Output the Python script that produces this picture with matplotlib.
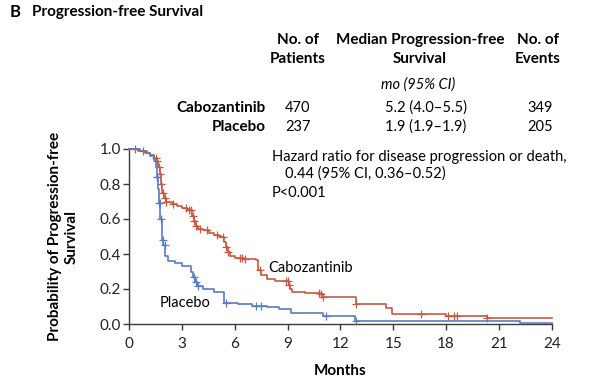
import numpy as np
import matplotlib
matplotlib.use('Agg')
import matplotlib.pyplot as plt

# ---- data ----
months_ticks = [0, 3, 6, 9, 12, 15, 18, 21, 24]
prob_ticks = [0.0, 0.2, 0.4, 0.6, 0.8, 1.0]

cabo_t = [0, 0.5, 0.9, 1.2, 1.4, 1.55, 1.65, 1.72, 1.78, 1.84, 1.95, 2.1, 2.4, 2.7, 3.0, 3.3,
          3.55, 3.68, 3.78, 3.9, 4.2, 4.5, 4.8, 5.1, 5.4, 5.5, 5.6, 5.72, 6.0, 6.5, 7.2, 7.33,
          7.5, 7.8, 8.3, 9.05, 9.15, 9.25, 10.0, 10.85, 11.0, 12.9, 14.6, 14.9, 18.0, 20.3, 24]
cabo_s = [1.0, 0.99, 0.98, 0.965, 0.95, 0.93, 0.90, 0.86, 0.80, 0.75, 0.72, 0.70, 0.685, 0.675,
          0.665, 0.65, 0.62, 0.59, 0.56, 0.545, 0.535, 0.52, 0.51, 0.495, 0.47, 0.44, 0.41, 0.39,
          0.38, 0.37, 0.365, 0.31, 0.28, 0.26, 0.245, 0.225, 0.20, 0.185, 0.18, 0.17, 0.156,
          0.114, 0.09, 0.06, 0.046, 0.034, 0.034]
cabo_cens = [0.3, 0.8, 1.5, 1.6, 1.7, 1.75, 1.8, 1.9, 2.0, 2.1, 2.5, 3.2, 3.4, 3.5, 3.6, 3.7, 3.8,
             4.0, 4.4, 5.0, 5.3, 5.5, 5.6, 6.3, 6.4, 6.6, 7.4, 8.9, 9.0, 9.1, 10.8, 10.9, 11.0,
             12.9, 16.6, 18.1, 18.45, 18.6, 20.3]

plac_t = [0, 0.6, 1.0, 1.2, 1.4, 1.5, 1.55, 1.62, 1.7, 1.76, 1.84, 1.93, 2.03, 2.2, 2.6, 3.0,
          3.5, 3.6, 3.75, 3.85, 4.2, 4.8, 5.4, 6.2, 7.0, 7.8, 8.5, 9.2, 11.0, 12.85, 22.2, 24]
plac_s = [1.0, 0.99, 0.975, 0.96, 0.94, 0.90, 0.84, 0.77, 0.69, 0.60, 0.48, 0.45, 0.39, 0.36,
          0.35, 0.33, 0.30, 0.27, 0.24, 0.215, 0.198, 0.185, 0.122, 0.112, 0.103, 0.095, 0.085,
          0.062, 0.045, 0.018, 0.008, 0.008]
plac_cens = [1.55, 1.6, 1.7, 1.75, 1.8, 1.9, 2.0, 3.7, 3.8, 3.9, 5.5, 7.2, 7.5, 11.2, 12.9]

RED = '#c65a45'
BLUE = '#5b7cc0'
GREY = '#3a3a3a'

plt.rcParams['font.family'] = ['Lato', 'DejaVu Sans']

W, H = 604.0, 380.0
fig = plt.figure(figsize=(W / 100, H / 100), dpi=100)
ax = fig.add_axes([129.3 / W, 1 - 324 / H, 422.4 / W, 175 / H])


def px(x, y):
    return x / W, 1 - y / H


def surv_at(t, steps, surv):
    i = np.searchsorted(steps, t, side='right') - 1
    return np.asarray(surv)[i]


for t, s, cens, col in [(cabo_t, cabo_s, cabo_cens, RED), (plac_t, plac_s, plac_cens, BLUE)]:
    ax.step(t, s, where='post', color=col, lw=1.2, clip_on=False, zorder=3)
    yc = [surv_at(c, t, s) for c in cens]
    ax.plot(cens, yc, ls='none', marker='+', ms=6, mew=0.9, color=col, clip_on=False, zorder=3)

ax.set_xlim(0, 24)
ax.set_ylim(0, 1.0)
ax.set_xticks(months_ticks)
ax.set_xticklabels([str(m) for m in months_ticks])
ax.set_yticks(prob_ticks)
ax.set_yticklabels(['%.1f' % p for p in prob_ticks])
for side in ['top', 'right']:
    ax.spines[side].set_visible(False)
for side in ['left', 'bottom']:
    ax.spines[side].set_color(GREY)
    ax.spines[side].set_linewidth(1.0)
ax.tick_params(direction='out', length=4, width=1.0, color=GREY, labelsize=11,
               labelcolor='#222222')
ax.tick_params(axis='x', pad=5)
ax.tick_params(axis='y', pad=2)

ax.set_xlabel('Months', fontsize=11, fontweight='bold', labelpad=10)
ax.set_ylabel('Probability of Progression-free\nSurvival', fontsize=11, fontweight='bold',
              labelpad=15, linespacing=1.25)

ax.text(7.9, 0.32, 'Cabozantinib', fontsize=10.5, va='center', ha='left')
ax.text(1.7, 0.12, 'Placebo', fontsize=10.5, va='center', ha='left')

# ---- header / table ----
fig.text(*px(10, 12), 'B', fontsize=12, fontweight='bold', va='center', ha='left')
fig.text(*px(32, 12), 'Progression-free Survival', fontsize=11, fontweight='bold',
         va='center', ha='left')

hdr = dict(fontsize=11, fontweight='bold', va='center', ha='center')
fig.text(*px(298, 40), 'No. of', **hdr)
fig.text(*px(298, 59), 'Patients', **hdr)
fig.text(*px(420, 40), 'Median Progression-free', **hdr)
fig.text(*px(420, 59), 'Survival', **hdr)
fig.text(*px(538, 40), 'No. of', **hdr)
fig.text(*px(538, 59), 'Events', **hdr)
fig.text(*px(418, 85), 'mo (95% CI)', fontsize=10.5, style='italic', va='center', ha='center')

arms = ['Cabozantinib', 'Placebo']
n_patients = [470, 237]
median_pfs = ['5.2 (4.0\u20135.5)', '1.9 (1.9\u20131.9)']
n_events = [349, 205]
for i, arm in enumerate(arms):
    yy = 108 + 19 * i
    fig.text(*px(266, yy), arm, fontsize=11, fontweight='bold', va='center', ha='right')
    fig.text(*px(298, yy), str(n_patients[i]), fontsize=10.5, va='center', ha='center')
    fig.text(*px(426, yy), median_pfs[i], fontsize=10.5, va='center', ha='center')
    fig.text(*px(540, yy), str(n_events[i]), fontsize=10.5, va='center', ha='center')

fig.text(*px(272, 157), 'Hazard ratio for disease progression or death,', fontsize=10.5,
         va='center', ha='left')
fig.text(*px(285, 174), '0.44 (95% CI, 0.36\u20130.52)', fontsize=10.5, va='center', ha='left')
fig.text(*px(272, 193), 'P<0.001', fontsize=10.5, va='center', ha='left')

fig.savefig('out.png', dpi=100, facecolor='white')
